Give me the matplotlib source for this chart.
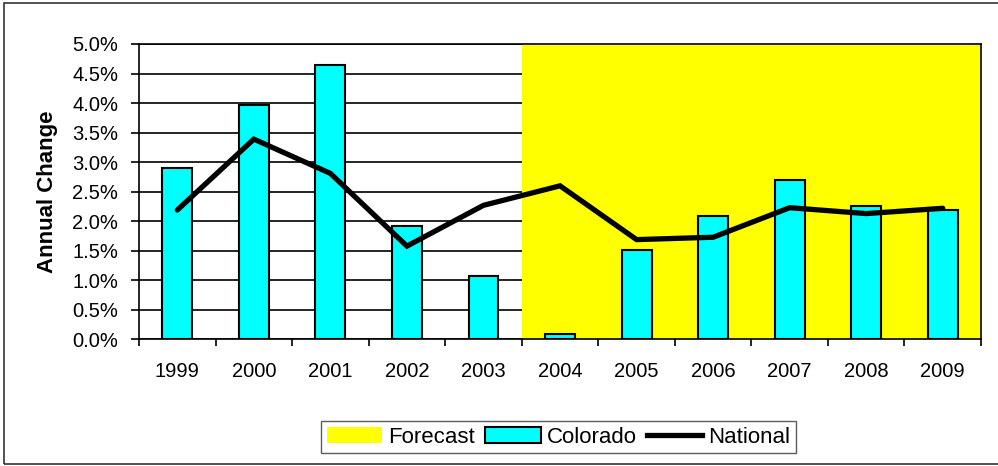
import matplotlib
matplotlib.use("Agg")
import matplotlib.pyplot as plt
from matplotlib.patches import Patch, Rectangle
from matplotlib.lines import Line2D
from matplotlib.ticker import FuncFormatter, MultipleLocator

plt.rcParams['font.family'] = ['Liberation Sans', 'DejaVu Sans']

years = ['1999', '2000', '2001', '2002', '2003', '2004',
         '2005', '2006', '2007', '2008', '2009']
colorado = [2.90, 3.97, 4.65, 1.92, 1.07, 0.10, 1.51, 2.09, 2.70, 2.26, 2.19]
national = [2.19, 3.39, 2.81, 1.58, 2.27, 2.60, 1.69, 1.73, 2.23, 2.13, 2.22]
forecast_start = '2004'

fig = plt.figure(figsize=(9.98, 4.66), dpi=100)
ax = fig.add_axes([0.1393, 0.2715, 0.8437, 0.6341])

x = list(range(len(years)))
fs = x[years.index(forecast_start)] - 0.5
ax.axvspan(fs, len(years) - 0.5, color='#ffff00', zorder=1, lw=0)
ax.bar(x, colorado, width=0.39, color='#00ffff', edgecolor='black',
       linewidth=1.5, zorder=2)
ax.plot(x, national, color='black', linewidth=3.8, zorder=3,
        solid_capstyle='round', solid_joinstyle='miter')

ax.set_xlim(-0.5, len(years) - 0.5)
ax.set_ylim(0, 5.0)
ax.yaxis.set_major_locator(MultipleLocator(0.5))
ax.yaxis.set_major_formatter(FuncFormatter(lambda v, p: f"{v:.1f}%"))
ax.set_axisbelow(True)
ax.yaxis.grid(True, color='black', linewidth=1.2)

ax.set_xticks(x)
ax.set_xticklabels(years)
ax.set_xticks([i - 0.5 for i in range(len(years) + 1)], minor=True)
ax.tick_params(axis='x', which='major', length=0, pad=16, labelsize=14.5)
ax.tick_params(axis='x', which='minor', length=5, width=1.2, direction='out')
ax.tick_params(axis='y', length=6, width=1.2, pad=9, labelsize=14.5)
for s in ax.spines.values():
    s.set_linewidth(1.2)
    s.set_color('black')
ax.set_ylabel('Annual Change', fontsize=16, fontweight='bold', labelpad=10)

handles = [Patch(facecolor='#ffff00', edgecolor='none'),
           Patch(facecolor='#00ffff', edgecolor='black', linewidth=1.5),
           Line2D([0], [0], color='black', linewidth=3.8)]
leg = fig.legend(handles, ['Forecast', 'Colorado', 'National'], ncol=3,
                 loc='center', bbox_to_anchor=(0.5596, 0.0622), fontsize=16,
                 frameon=True, fancybox=False, handlelength=2.5,
                 handletextpad=0.27, columnspacing=0.45, borderpad=0.25)
leg.get_frame().set_edgecolor('#333333')
leg.get_frame().set_linewidth(1.0)

fig.patches.append(Rectangle((4 / 998, 2 / 466), 1.1, 461 / 466,
                             transform=fig.transFigure, fill=False,
                             edgecolor='#333333', linewidth=1.2))

fig.savefig('out.png', dpi=100)
